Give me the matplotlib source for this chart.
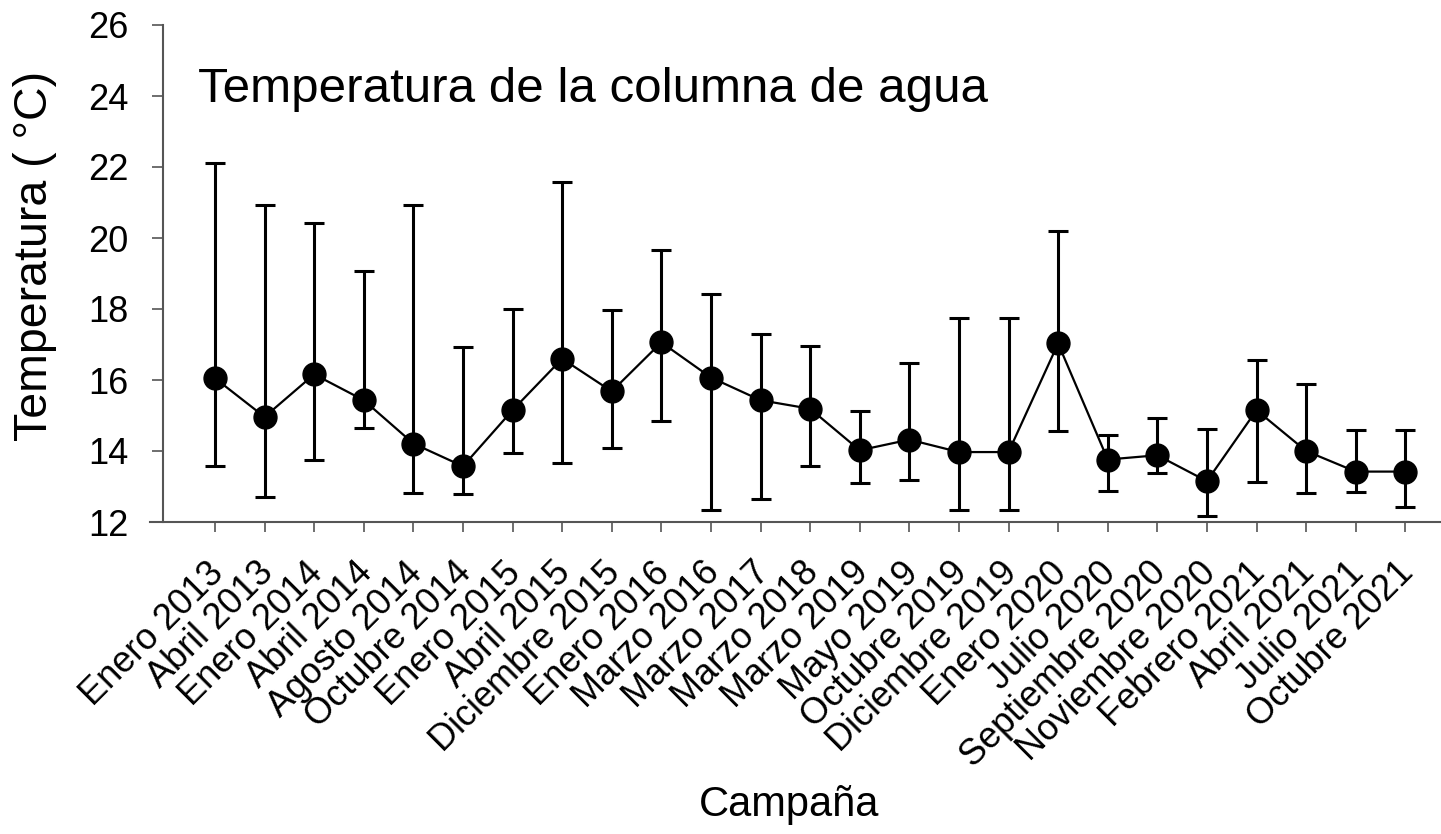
import numpy as np
import matplotlib.pyplot as plt
import matplotlib.transforms as mtransforms

plt.rcParams['font.family'] = ['Liberation Sans', 'DejaVu Sans']

campanas = [
    "Enero 2013", "Abril 2013", "Enero 2014", "Abril 2014", "Agosto 2014",
    "Octubre 2014", "Enero 2015", "Abril 2015", "Diciembre 2015", "Enero 2016",
    "Marzo 2016", "Marzo 2017", "Marzo 2018", "Marzo 2019", "Mayo 2019",
    "Octubre 2019", "Diciembre 2019", "Enero 2020", "Julio 2020",
    "Septiembre 2020", "Noviembre 2020", "Febrero 2021", "Abril 2021",
    "Julio 2021", "Octubre 2021",
]
temp_media = [16.05, 14.96, 16.16, 15.43, 14.21, 13.57, 15.15, 16.60, 15.68, 17.06,
              16.07, 15.43, 15.19, 14.02, 14.32, 13.97, 13.97, 17.03, 13.76,
              13.88, 13.15, 15.15, 14.00, 13.42, 13.42]
temp_max = [22.10, 20.94, 20.42, 19.07, 20.94, 16.93, 18.01, 21.57, 17.96, 19.65,
            18.43, 17.30, 16.97, 15.13, 16.49, 17.75, 17.75, 20.19, 14.46,
            14.94, 14.61, 16.56, 15.88, 14.58, 14.58]
temp_min = [13.57, 12.70, 13.74, 14.66, 12.81, 12.80, 13.93, 13.67, 14.08, 14.85,
            12.33, 12.66, 13.59, 13.10, 13.19, 12.33, 12.33, 14.56, 12.87,
            13.38, 12.16, 13.12, 12.81, 12.84, 12.42]
yticks = [12, 14, 16, 18, 20, 22, 24, 26]

x = np.arange(len(campanas))
media = np.array(temp_media)
err = [media - np.array(temp_min), np.array(temp_max) - media]

fig = plt.figure(figsize=(14.41, 8.34), dpi=100)
ax = fig.add_axes([150 / 1441, 312 / 834, 1291 / 1441, 497 / 834])

ax.errorbar(x, media, yerr=err, fmt="none", ecolor="black", elinewidth=2.2,
            capsize=7.5, capthick=2.2, zorder=2)
ax.plot(x, media, color="black", linewidth=1.6, zorder=3)
ax.plot(x, media, "o", color="black", markersize=16.5, zorder=4)

ax.set_xlim(-1.31, 24.72)
ax.set_ylim(12, 26)
ax.set_yticks(yticks)
ax.set_xticks(x)
ax.set_xticklabels(campanas, rotation=45, ha="right", va="top",
                   rotation_mode="anchor", fontsize=26)
ax.tick_params(axis="y", labelsize=26, length=8, width=1.2, color="#555555",
               direction="out", pad=17)
ax.tick_params(axis="x", length=7, width=1.2, color="#555555", direction="out",
               pad=17)

# nudge rotated labels so their ends sit under the ticks
shift = mtransforms.ScaledTranslation(-9 / 100, 0, fig.dpi_scale_trans)
for lbl in ax.get_xticklabels():
    lbl.set_transform(lbl.get_transform() + shift)

ax.spines["top"].set_visible(False)
ax.spines["right"].set_visible(False)
ax.spines["left"].set_position(("data", -1.05))
for s in ("left", "bottom"):
    ax.spines[s].set_color("#555555")
    ax.spines[s].set_linewidth(1.5)

ax.set_ylabel("Temperatura ( °C)", fontsize=33.5)
ax.yaxis.set_label_coords(-0.072, 0.535)
ax.set_xlabel("Campaña", fontsize=30)
ax.xaxis.set_label_coords(0.495, -0.53)

fig.text(198 / 1441, (834 - 102) / 834, "Temperatura de la columna de agua",
         fontsize=35.5, va="baseline", ha="left")

fig.savefig("out.png", dpi=100)
plt.close(fig)
